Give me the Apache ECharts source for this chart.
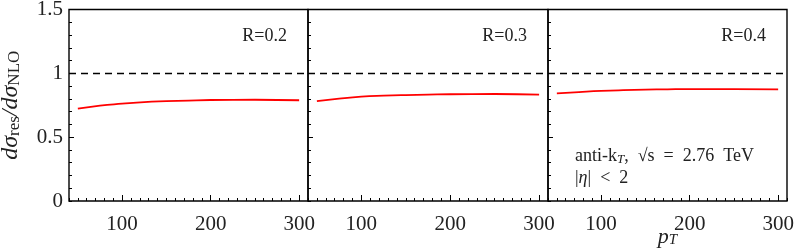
<!DOCTYPE html>
<html>
<head>
<meta charset="utf-8">
<script src="https://cdn.jsdelivr.net/npm/echarts@6/dist/echarts.min.js"></script>
<style>
  html, body { margin: 0; padding: 0; background: #fff; }
  #chart { width: 794px; height: 250px; }
</style>
</head>
<body>
<div id="chart"></div>
<script>
// pT points of the curves
const ptValues = [50, 75, 100, 125, 150, 175, 200, 250, 300]
// ratio d sigma_res / d sigma_NLO for each cone size
const ratioR02 = [0.723, 0.747, 0.762, 0.775, 0.782, 0.787, 0.791, 0.793, 0.789]
const ratioR03 = [0.783, 0.802, 0.817, 0.825, 0.830, 0.833, 0.836, 0.838, 0.833]
const ratioR04 = [0.843, 0.853, 0.862, 0.868, 0.872, 0.875, 0.877, 0.877, 0.875]
const panelLabels = ['R=0.2', 'R=0.3', 'R=0.4']
const xMajorTicks = [100, 200, 300]
const yMajorTicks = [0.5, 1]
const refLevel = 1

const FONT = 'Liberation Serif'
const panels = [
  { left: 69, width: 239, data: ratioR02 },
  { left: 308, width: 240, data: ratioR03 },
  { left: 548, width: 239, data: ratioR04 }
]
const TOP = 9.5
const HEIGHT = 191.5

const grid = []
const xAxis = []
const yAxis = []
const series = []
const graphic = []

panels.forEach((p, i) => {
  grid.push({
    left: p.left, top: TOP, width: p.width, height: HEIGHT,
    outerBoundsMode: 'none',
    show: true, borderColor: '#000', borderWidth: 1.4, backgroundColor: 'transparent'
  })
  // minor ticks + labels
  xAxis.push({
    type: 'value', gridIndex: i, position: 'bottom', min: 40, max: 310, interval: 10,
    axisLine: { show: false },
    splitLine: { show: false },
    axisTick: { inside: true, length: 3, lineStyle: { color: '#000', width: 1 } },
    axisLabel: {
      margin: 13, fontFamily: FONT, fontSize: 21, color: '#222',
      formatter: v => (v % 100 === 0 ? String(v) : '')
    },
    name: i === 2 ? '{i|p}{s|T}' : '',
    nameLocation: 'middle', nameGap: 25, nameMoveOverlap: false,
    nameTextStyle: {
      rich: {
        i: { fontFamily: FONT, fontStyle: 'italic', fontSize: 22, color: '#222', lineHeight: 22, verticalAlign: 'top' },
        s: { fontFamily: FONT, fontStyle: 'italic', fontSize: 15, color: '#222', lineHeight: 16, padding: [10, 0, 0, 0], verticalAlign: 'bottom' }
      }
    }
  })
  // major ticks
  xAxis.push({
    type: 'value', gridIndex: i, position: 'bottom', min: 40, max: 310,
    axisLine: { show: false },
    splitLine: { show: false },
    axisTick: { inside: true, length: 6, customValues: xMajorTicks, lineStyle: { color: '#000', width: 1 } },
    axisLabel: { show: false }
  })
  yAxis.push({
    type: 'value', gridIndex: i, position: 'left', min: 0, max: 1.5, interval: 0.1,
    axisLine: { show: false },
    splitLine: { show: false },
    axisTick: { inside: true, length: 3, lineStyle: { color: '#000', width: 1 } },
    axisLabel: {
      show: i === 0, margin: 6, fontFamily: FONT, fontSize: 21, color: '#222',
      formatter: v => (Math.abs(v * 2 - Math.round(v * 2)) < 1e-6 ? String(Math.round(v * 2) / 2) : '')
    },
    name: i === 0 ? '{i|dσ}{s|res}{i|/dσ}{s|NLO}' : '',
    nameLocation: 'middle', nameGap: 46, nameRotate: 90,
    nameTextStyle: {
      rich: {
        i: { fontFamily: FONT, fontStyle: 'italic', fontSize: 24, color: '#222', lineHeight: 24, verticalAlign: 'top' },
        s: { fontFamily: FONT, fontSize: 17, color: '#222', lineHeight: 18, padding: [10, 0, 0, 0], verticalAlign: 'bottom' }
      }
    }
  })
  yAxis.push({
    type: 'value', gridIndex: i, position: 'left', min: 0, max: 1.5,
    axisLine: { show: false },
    splitLine: { show: false },
    axisTick: { inside: true, length: 5, customValues: yMajorTicks, lineStyle: { color: '#000', width: 1 } },
    axisLabel: { show: false }
  })
  series.push({
    type: 'line',
    xAxisIndex: i * 2, yAxisIndex: i * 2,
    data: ptValues.map((x, k) => [x, p.data[k]]),
    smooth: true,
    showSymbol: false,
    lineStyle: { color: '#ff0000', width: 1.8 },
    markLine: {
      silent: true, symbol: 'none', label: { show: false },
      lineStyle: { color: '#000', type: [7, 5], width: 1.3 },
      data: [{ yAxis: refLevel }]
    }
  })
  graphic.push({
    type: 'text', x: p.left + p.width - 21, y: 36,
    style: {
      text: panelLabels[i], fill: '#222', font: '18px "' + FONT + '"',
      textAlign: 'right', textVerticalAlign: 'middle'
    }
  })
})

graphic.push({
  type: 'text', x: 575, y: 156,
  style: {
    text: 'anti-k{s|T},  √s  =  2.76  TeV',
    fill: '#222', font: '18px "' + FONT + '"', textVerticalAlign: 'middle',
    rich: {
      s: { fontFamily: FONT, fontStyle: 'italic', fontSize: 13, padding: [8, 0, 0, 0], verticalAlign: 'bottom' }
    }
  }
})
graphic.push({
  type: 'text', x: 575, y: 178,
  style: {
    text: '|{i|η}|  <  2',
    fill: '#222', font: '18px "' + FONT + '"', textVerticalAlign: 'middle',
    rich: {
      i: { fontFamily: FONT, fontStyle: 'italic', fontSize: 18 }
    }
  }
})

const chart = echarts.init(document.getElementById('chart'), null, { renderer: 'canvas' })
chart.setOption({
  animation: false,
  backgroundColor: '#fff',
  grid, xAxis, yAxis, series, graphic
})
</script>
</body>
</html>
